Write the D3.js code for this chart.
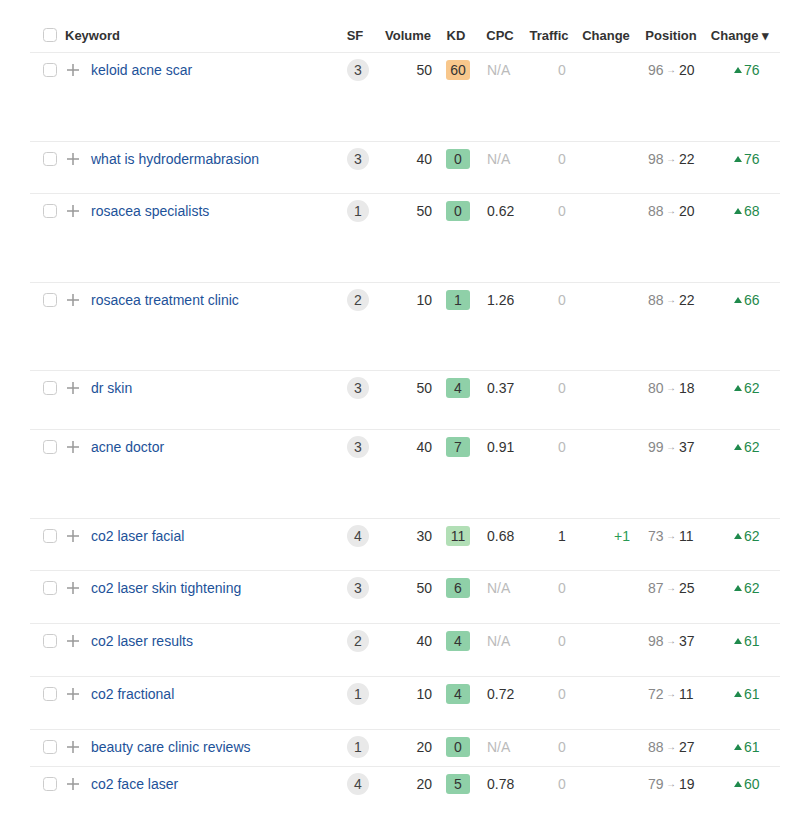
<!DOCTYPE html><html><head><meta charset="utf-8"><script src="https://cdn.jsdelivr.net/npm/d3@7"></script>
<style>body{margin:0;background:#fff;font-family:"Liberation Sans",Arial,sans-serif}</style></head><body><svg id="c" width="810" height="825"></svg>
<script>
const headers=["Keyword","SF","Volume","KD","CPC","Traffic","Change","Position","Change ▾"];
const keywords=["keloid acne scar","what is hydrodermabrasion","rosacea specialists","rosacea treatment clinic","dr skin","acne doctor","co2 laser facial","co2 laser skin tightening","co2 laser results","co2 fractional","beauty care clinic reviews","co2 face laser"];
const sf=[3,3,1,2,3,3,4,3,2,1,1,4];
const volume=[50,40,50,10,50,40,30,50,40,10,20,20];
const kd=[60,0,0,1,4,7,11,6,4,4,0,5];
const cpc=["N/A","N/A","0.62","1.26","0.37","0.91","0.68","N/A","N/A","0.72","N/A","0.78"];
const traffic=[0,0,0,0,0,0,1,0,0,0,0,0];
const trafficChange=["","","","","","","+1","","","","",""];
const posFrom=[96,98,88,88,80,99,73,87,98,72,88,79];
const posTo=[20,22,20,22,18,37,11,25,37,11,27,19];
const posChange=[76,76,68,66,62,62,62,62,61,61,61,60];
// layout: row separator lines (top of each row)
const rowTops=[52,141,193,282,370,429,518,570,623,676,729,766];
const svg=d3.select("#c");
const idx=d3.range(keywords.length);
const y=i=>rowTops[i]+18;
const X0=30,X1=780;
// header
const hx=[{t:headers[0],x:65,a:"start"},{t:headers[1],x:355,a:"middle"},{t:headers[2],x:408,a:"middle"},{t:headers[3],x:456,a:"middle"},{t:headers[4],x:500,a:"middle"},{t:headers[5],x:549,a:"middle"},{t:headers[6],x:606,a:"middle"},{t:headers[7],x:671,a:"middle"},{t:headers[8],x:740,a:"middle"}];
svg.selectAll(".h").data(hx).join("text").attr("x",d=>d.x).attr("y",40).attr("text-anchor",d=>d.a).attr("font-size",13).attr("font-weight","bold").attr("fill","#333").text(d=>d.t);
svg.append("rect").attr("x",43.5).attr("y",28.5).attr("width",13).attr("height",13).attr("rx",3).attr("fill","#fff").attr("stroke","#ccc");
svg.selectAll(".ln").data(idx).join("line").attr("x1",X0).attr("x2",X1).attr("y1",i=>rowTops[i]+0.5).attr("y2",i=>rowTops[i]+0.5).attr("stroke","#ebebeb");
const g=svg.selectAll(".r").data(idx).join("g").attr("transform",i=>`translate(0,${y(i)})`);
g.append("rect").attr("x",43.5).attr("y",-6.5).attr("width",13).attr("height",13).attr("rx",3).attr("fill","#fff").attr("stroke","#ccc");
g.append("path").attr("d","M67,0H79M73,-6V6").attr("stroke","#999").attr("stroke-width",1.5);
const T=(sel,x,anchor,fill,f)=>sel.append("text").attr("x",x).attr("y",5).attr("text-anchor",anchor).attr("font-size",14).attr("fill",fill).text(f);
T(g,91,"start","#1d5299",i=>keywords[i]);
g.append("circle").attr("cx",358).attr("cy",0).attr("r",11).attr("fill","#e9e9e9");
T(g,358,"middle","#444",i=>sf[i]);
T(g,432,"end","#333",i=>volume[i]);
const kdColor=v=>v>=50?"#f8c78c":v>=10?"#b2dfb6":"#8fd0a8";
g.append("rect").attr("x",446).attr("y",-10).attr("width",24).attr("height",20).attr("rx",3).attr("fill",i=>kdColor(kd[i]));
T(g,458,"middle","#333",i=>kd[i]);
T(g,487,"start",i=>cpc[i]==="N/A"?"#bbb":"#333",i=>cpc[i]);
T(g,562,"middle",i=>traffic[i]?"#333":"#bbb",i=>traffic[i]);
T(g,630,"end","#2a9a55",i=>trafficChange[i]);
T(g,648,"start","#888",i=>posFrom[i]);
g.append("text").attr("x",671).attr("y",3).attr("text-anchor","middle").attr("font-size",10).attr("fill","#999").text("→");
T(g,679,"start","#333",i=>posTo[i]);
g.append("path").attr("d","M734,3L738,-3L742,3Z").attr("fill","#1f8a4c");
T(g,744,"start","#1f8a4c",i=>posChange[i]);
</script></body></html>
